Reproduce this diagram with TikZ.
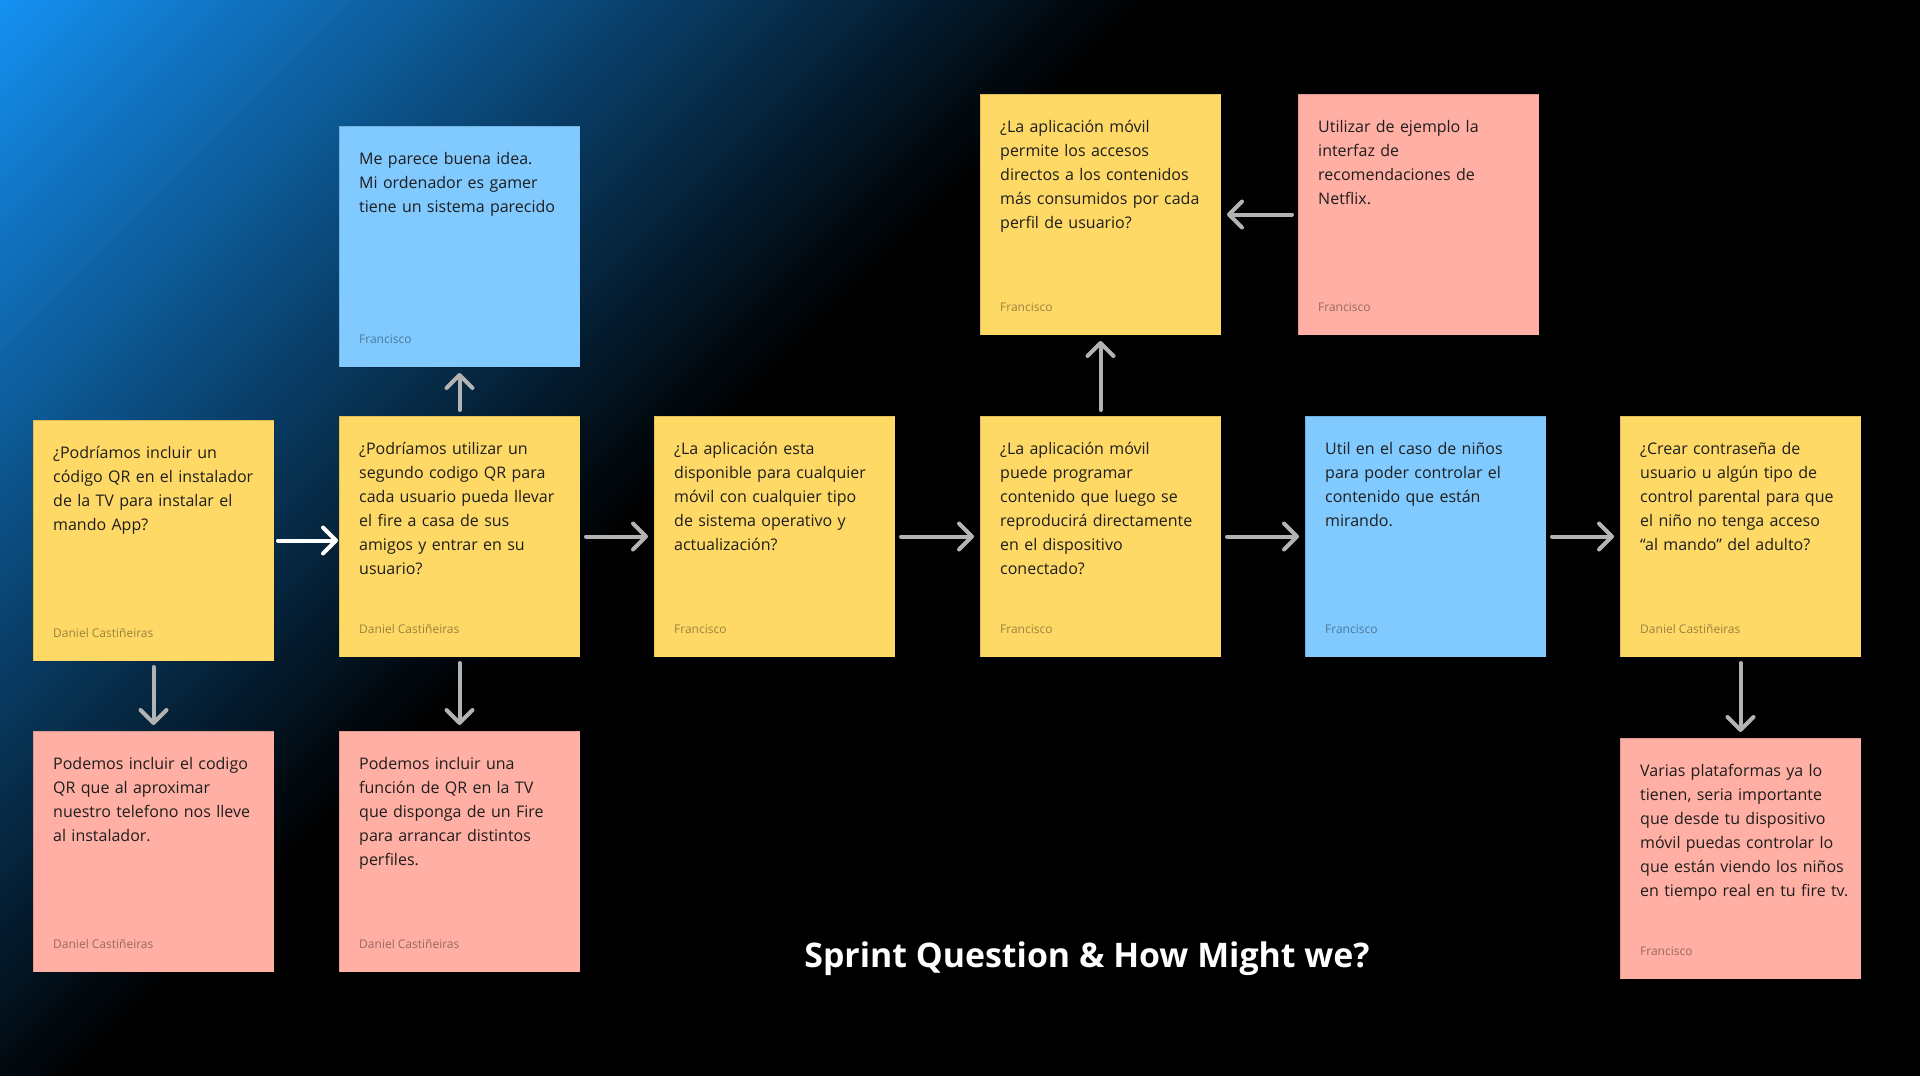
\documentclass[tikz,border=0pt]{standalone}
\usepackage{fontspec}
\setmainfont{Open Sans}
\usetikzlibrary{arrows.meta,calc}
\definecolor{sy}{HTML}{FFD966}
\definecolor{sb}{HTML}{80CAFF}
\definecolor{sp}{HTML}{FFAFA3}
\definecolor{bgblue}{HTML}{1592F4}
\definecolor{ink}{HTML}{1E1E1E}
\definecolor{arrowgrey}{HTML}{B3B3B3}
\begin{document}
\begin{tikzpicture}[x=1bp,y=-1bp,
  note/.style={rectangle, minimum width=241bp, minimum height=241bp, inner sep=0pt, outer sep=0pt,
    anchor=north west, draw=black, draw opacity=0.12, line width=1bp, fill=#1},
  body/.style={anchor=base west, inner sep=0pt, text width=215bp, align=left, text=ink,
    font=\fontsize{16.06}{24.09}\selectfont},
  author/.style={anchor=base west, inner sep=0pt, text=black, text opacity=0.4,
    font=\fontsize{12.05}{14}\selectfont},
  link/.style={line width=4bp, draw=arrowgrey, line cap=round,
    -{Straight Barb[length=13bp,width=26bp,line cap=round,line join=round]},
    shorten >=6bp, shorten <=6bp},
]
\useasboundingbox (0,0) rectangle (1920,1075);
% background
\begin{scope}
  \clip (-10,-10) rectangle (1930,1085);
  \fill[black] (-10,-10) rectangle (1930,1085);
  \foreach \i in {0,...,81} {
    \pgfmathtruncatemacro\pct{100*(1-(\i*10+5)/820)}
    \fill[bgblue!\pct!black, rotate=-45] (\i*10,-3000) rectangle (\i*10+10.6,3000);
  }
\end{scope}

% notes
\node[note=sy] (A) at (33,420) {};
\node[note=sy] (B) at (339,416) {};
\node[note=sy] (C) at (654,416) {};
\node[note=sy] (D) at (980,416) {};
\node[note=sb] (E) at (1305,416) {};
\node[note=sy] (F) at (1620,416) {};
\node[note=sb] (TB) at (339,126) {};
\node[note=sy] (TY) at (980,94) {};
\node[note=sp] (TP) at (1298,94) {};
\node[note=sp] (PA) at (33,731) {};
\node[note=sp] (PB) at (339,731) {};
\node[note=sp] (PF) at (1620,738) {};

% texts
\node[body] (At) at ($(A.north west)+(20,38)$) {¿Podríamos incluir un\\código QR en el instalador\\de la TV para instalar el\\mando App?};
\node[author] (Aa) at ($(A.south west)+(20,-24)$) {Daniel Castiñeiras};

\node[body] (Bt) at ($(B.north west)+(20,38)$) {¿Podríamos utilizar un\\segundo codigo QR para\\cada usuario pueda llevar\\el fire a casa de sus\\amigos y entrar en su\\usuario?};
\node[author] (Ba) at ($(B.south west)+(20,-24)$) {Daniel Castiñeiras};

\node[body] (Ct) at ($(C.north west)+(20,38)$) {¿La aplicación esta\\disponible para cualquier\\móvil con cualquier tipo\\de sistema operativo y\\actualización?};
\node[author] (Ca) at ($(C.south west)+(20,-24)$) {Francisco};

\node[body] (Dt) at ($(D.north west)+(20,38)$) {¿La aplicación móvil\\puede programar\\contenido que luego se\\reproducirá directamente\\en el dispositivo\\conectado?};
\node[author] (Da) at ($(D.south west)+(20,-24)$) {Francisco};

\node[body] (Et) at ($(E.north west)+(20,38)$) {Util en el caso de niños\\para poder controlar el\\contenido que están\\mirando.};
\node[author] (Ea) at ($(E.south west)+(20,-24)$) {Francisco};

\node[body] (Ft) at ($(F.north west)+(20,38)$) {¿Crear contraseña de\\usuario u algún tipo de\\control parental para que\\el niño no tenga acceso\\“al mando” del adulto?};
\node[author] (Fa) at ($(F.south west)+(20,-24)$) {Daniel Castiñeiras};

\node[body] (TBt) at ($(TB.north west)+(20,38)$) {Me parece buena idea.\\Mi ordenador es gamer\\tiene un sistema parecido};
\node[author] (TBa) at ($(TB.south west)+(20,-24)$) {Francisco};

\node[body] (TYt) at ($(TY.north west)+(20,38)$) {¿La aplicación móvil\\permite los accesos\\directos a los contenidos\\más consumidos por cada\\perfil de usuario?};
\node[author] (TYa) at ($(TY.south west)+(20,-24)$) {Francisco};

\node[body] (TPt) at ($(TP.north west)+(20,38)$) {Utilizar de ejemplo la\\interfaz de\\recomendaciones de\\Netflix.};
\node[author] (TPa) at ($(TP.south west)+(20,-24)$) {Francisco};

\node[body] (PAt) at ($(PA.north west)+(20,38)$) {Podemos incluir el codigo\\QR que al aproximar\\nuestro telefono nos lleve\\al instalador.};
\node[author] (PAa) at ($(PA.south west)+(20,-24)$) {Daniel Castiñeiras};

\node[body] (PBt) at ($(PB.north west)+(20,38)$) {Podemos incluir una\\función de QR en la TV\\que disponga de un Fire\\para arrancar distintos\\perfiles.};
\node[author] (PBa) at ($(PB.south west)+(20,-24)$) {Daniel Castiñeiras};

\node[body] (PFt) at ($(PF.north west)+(20,38)$) {Varias plataformas ya lo\\tienen, seria importante\\que desde tu dispositivo\\móvil puedas controlar lo\\que están viendo los niños\\en tiempo real en tu fire tv.};
\node[author] (PFa) at ($(PF.south west)+(20,-24)$) {Francisco};

% title
\node[anchor=base, inner sep=0pt, text=white, font=\fontsize{34}{40}\selectfont\bfseries] (title) at (1087,967) {Sprint Question \& How Might we?};

% connectors
\draw[link, draw=white, shorten <=4bp, shorten >=1bp] (A.east) -- (A.east -| B.west);
\draw[link] (B.east) -- (C.west);
\draw[link] (C.east) -- (D.west);
\draw[link] (D.east) -- (E.west);
\draw[link] (E.east) -- (F.west);
\draw[link] (B.north) -- (TB.south);
\draw[link] (A.south) -- (PA.north);
\draw[link] (B.south) -- (PB.north);
\draw[link] (D.north) -- (TY.south);
\draw[link] (TP.west) -- (TY.east);
\draw[link] (F.south) -- (PF.north);
\end{tikzpicture}
\end{document}
